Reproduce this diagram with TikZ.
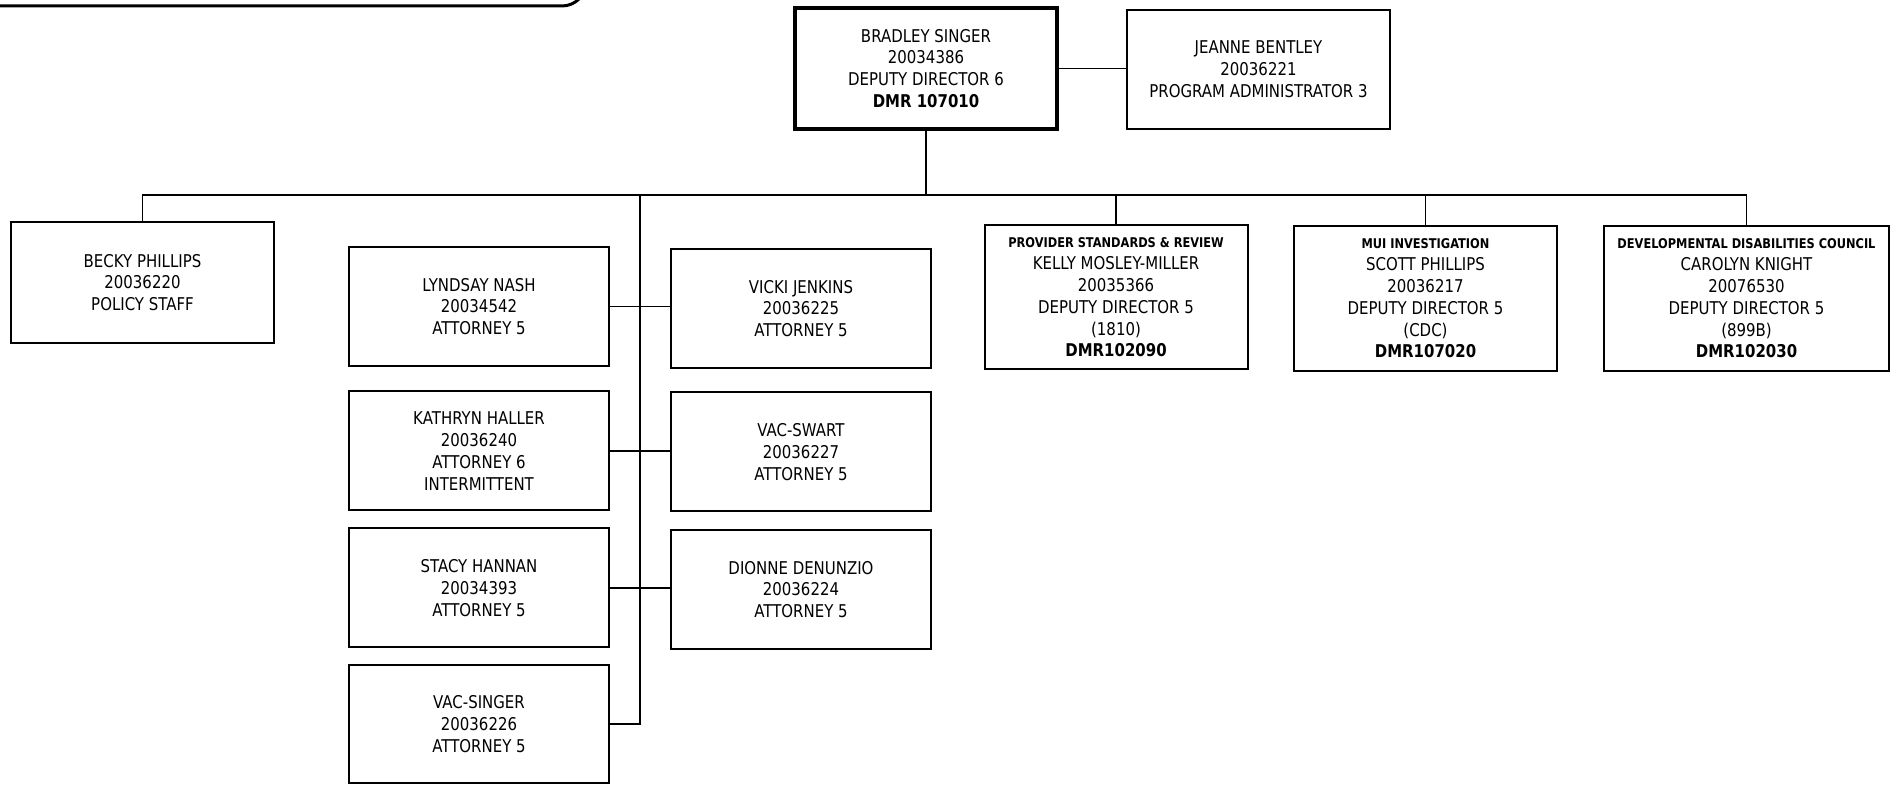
\documentclass[tikz,border=0pt]{standalone}
\usepackage{fontspec}
\setmainfont{DejaVu Sans}[FakeStretch=0.85]
\newcommand{\orghdr}[1]{{\fontsize{6.7}{10.9}\selectfont\bfseries #1}}
\begin{document}
\begin{tikzpicture}[x=0.5pt,y=-0.5pt,
  box/.style={draw, line width=1pt, inner sep=0pt, align=center,
    font=\fontsize{8.8}{10.9}\selectfont},
  att/.style={box, minimum width=130pt, minimum height=59.5pt},
  dep/.style={box, minimum width=131.5pt, minimum height=72pt},
  conn/.style={line width=0.75pt}]
\clip (0,0) rectangle (1902,785);
\fill[white] (0,0) rectangle (1902,785);
% partial rounded frame at top left
\draw[line width=1.5pt, rounded corners=12pt] (-20,6) -- (586,6) -- (586,-60);
% top level
\node[box, line width=1.6pt, minimum width=131pt, minimum height=60.5pt] (bradley) at (926,68.5)
  {BRADLEY SINGER\\20034386\\DEPUTY DIRECTOR 6\\\textbf{DMR 107010}};
\node[box, minimum width=131.5pt, minimum height=59.5pt] (jeanne) at (1258.5,69.5)
  {JEANNE BENTLEY\\20036221\\PROGRAM ADMINISTRATOR 3};
\node[box, minimum width=131.5pt, minimum height=60.5pt] (becky) at (142.5,282.5)
  {BECKY PHILLIPS\\20036220\\POLICY STAFF};
% attorneys
\node[att] (lyndsay) at (479,306.5) {LYNDSAY NASH\\20034542\\ATTORNEY 5};
\node[att] (vicki) at (801,308.5) {VICKI JENKINS\\20036225\\ATTORNEY 5};
\node[att] (kathryn) at (479,451) {KATHRYN HALLER\\20036240\\ATTORNEY 6\\INTERMITTENT};
\node[att] (vacswart) at (801,452) {VAC-SWART\\20036227\\ATTORNEY 5};
\node[att] (stacy) at (479,588) {STACY HANNAN\\20034393\\ATTORNEY 5};
\node[att] (dionne) at (801,589.5) {DIONNE DENUNZIO\\20036224\\ATTORNEY 5};
\node[att, minimum height=59pt] (vacsinger) at (479,724) {VAC-SINGER\\20036226\\ATTORNEY 5};
% deputy directors
\node[dep] (provider) at (1116,297.5)
  {\orghdr{PROVIDER STANDARDS \& REVIEW}\\KELLY MOSLEY-MILLER\\20035366\\DEPUTY DIRECTOR 5\\(1810)\\\textbf{DMR102090}};
\node[dep, minimum height=72.5pt] (mui) at (1425.5,298.5)
  {\orghdr{MUI INVESTIGATION}\\SCOTT PHILLIPS\\20036217\\DEPUTY DIRECTOR 5\\(CDC)\\\textbf{DMR107020}};
\node[dep, minimum width=142.5pt, minimum height=72.5pt] (ddc) at (1746.5,298.5)
  {\orghdr{DEVELOPMENTAL DISABILITIES COUNCIL}\\CAROLYN KNIGHT\\20076530\\DEPUTY DIRECTOR 5\\(899B)\\\textbf{DMR102030}};
% connectors
\coordinate (bus) at (0,195);
\coordinate (trunk) at (640,195);
\draw[conn] (bradley.east) -- (bradley.east -| jeanne.west);
\draw[conn] (bradley.south) -- (bradley.south |- bus);
\draw[conn] (becky.north) -- (becky.north |- bus) -- (ddc.north |- bus) -- (ddc.north);
\draw[conn] (provider.north) -- (provider.north |- bus);
\draw[conn] (mui.north) -- (mui.north |- bus);
\draw[conn] (trunk) |- (vacsinger.east);
\draw[conn] (lyndsay.east) -- (lyndsay.east -| vicki.west);
\draw[conn] (kathryn.east) -- (kathryn.east -| vacswart.west);
\draw[conn] (stacy.east) -- (stacy.east -| dionne.west);
\end{tikzpicture}
\end{document}
